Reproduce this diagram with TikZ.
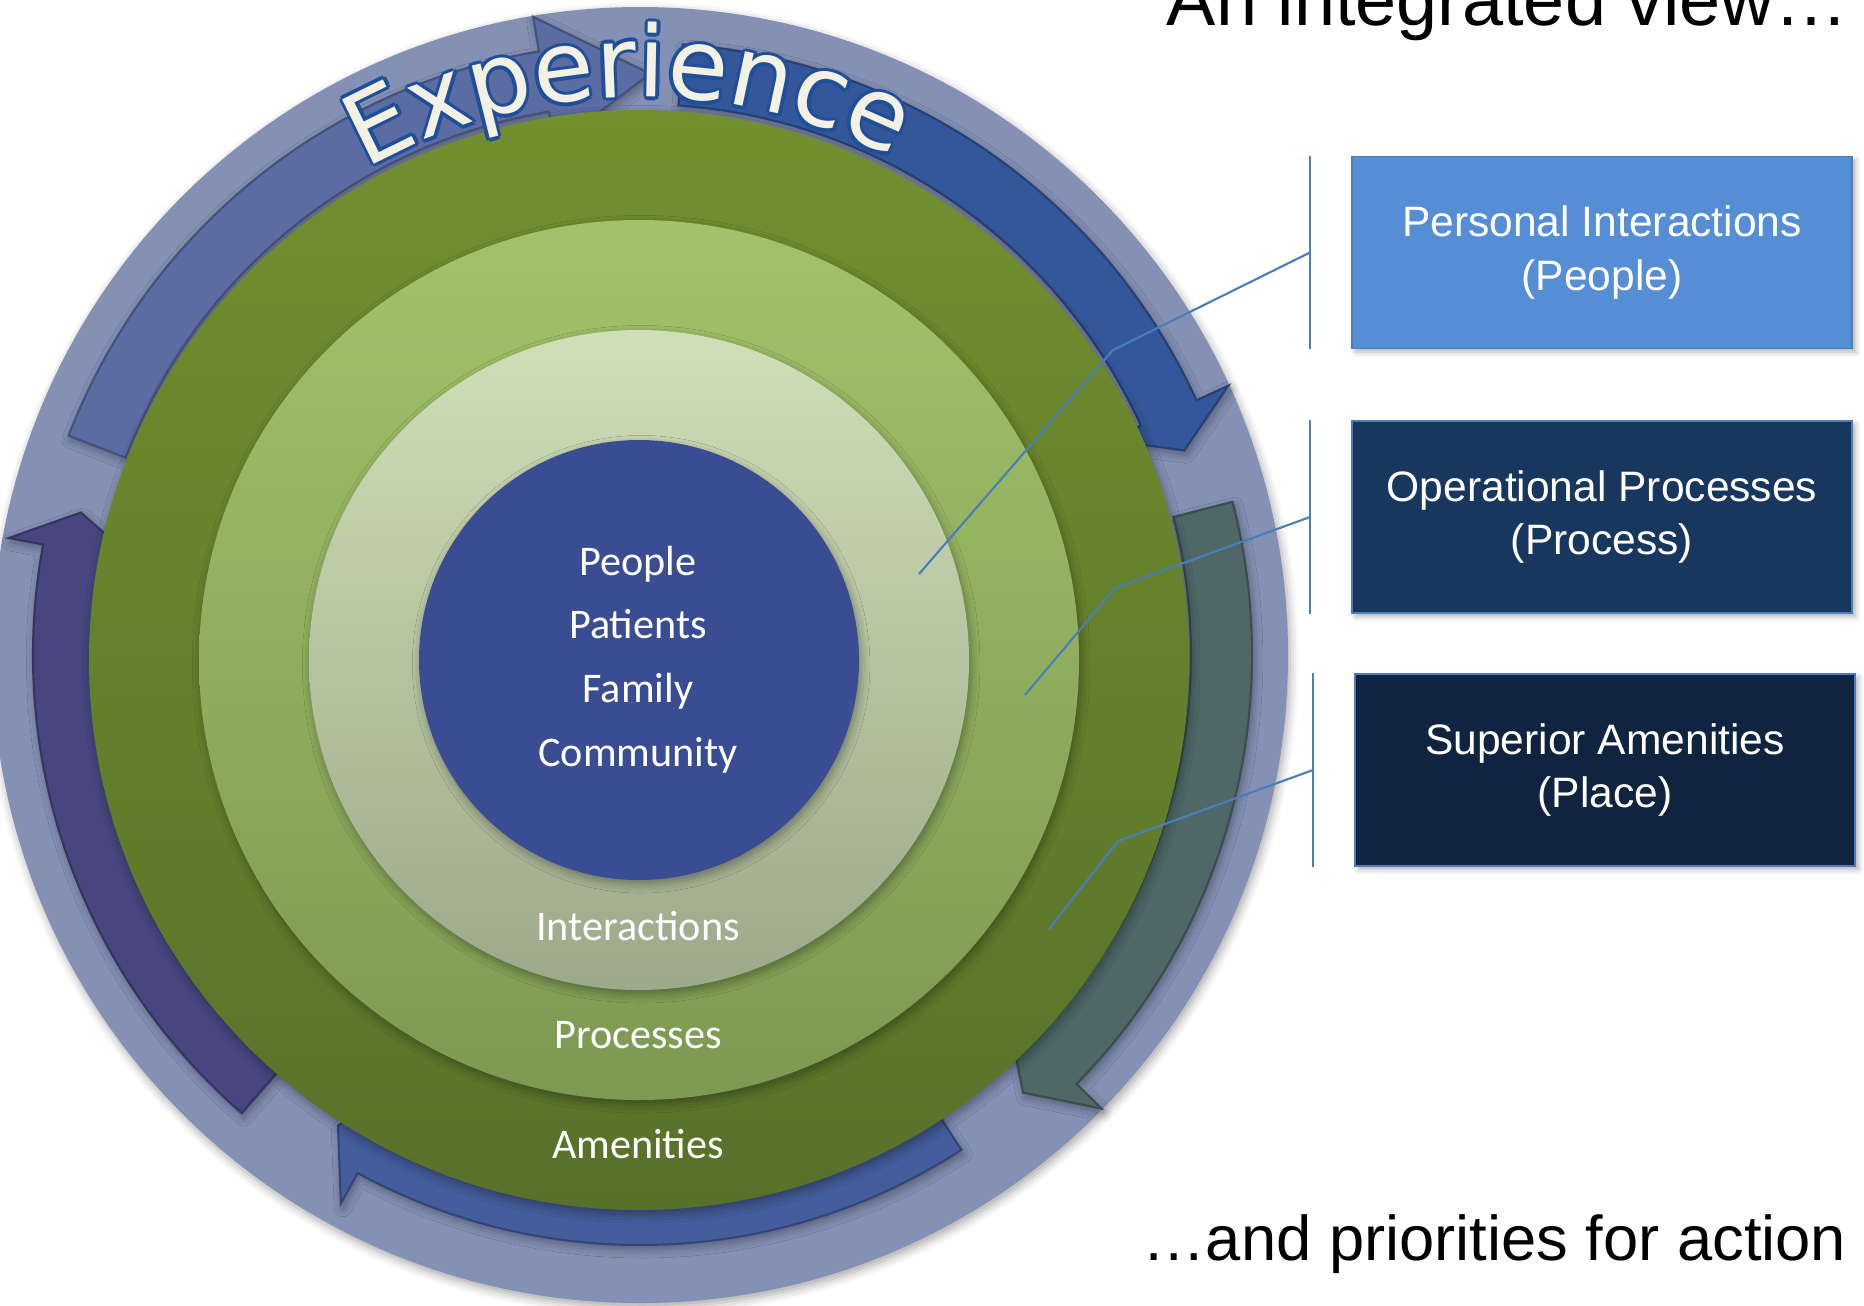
\documentclass[tikz,border=0pt]{standalone}
\usepackage{fontspec}
\setmainfont{Liberation Sans}
\newfontfamily\calibri{Carlito}
\newfontfamily\verdana{DejaVu Sans}
\usetikzlibrary{decorations.text,shadows.blur}

\definecolor{ringbg}{HTML}{8490B4}
\definecolor{arrtl}{HTML}{5A6CA2}
\definecolor{arrtr}{HTML}{33579A}
\definecolor{arrr}{HTML}{4F6767}
\definecolor{arrb}{HTML}{445D9C}
\definecolor{arrl}{HTML}{47467F}
\definecolor{amentop}{HTML}{72902F}
\definecolor{amenbot}{HTML}{58712A}
\definecolor{proctop}{HTML}{A2C26A}
\definecolor{procbot}{HTML}{7D9952}
\definecolor{intertop}{HTML}{CFDFB7}
\definecolor{interbot}{HTML}{9CA98A}
\definecolor{core}{HTML}{3A4D92}
\definecolor{expfill}{HTML}{F3F0E4}
\definecolor{expline}{HTML}{1F4F99}
\definecolor{boxpeople}{HTML}{558ED5}
\definecolor{boxprocess}{HTML}{17375E}
\definecolor{boxplace}{HTML}{10243F}
\definecolor{leadline}{HTML}{4A7EBB}

% #1 colour, #2/#3 inner/outer radius, #4 tail angle, #5 head angle, #6 tip angle
\newcommand{\cycarrow}[6]{%
  \path[fill=#1, draw=#1!75!black, line width=0.6pt, soft]
    ({#4}:{#3}) arc[start angle=#4, end angle=#5, radius=#3] -- ({#5}:{#3+35})
    -- ({#6}:{(#2+#3)/2}) -- ({#5}:{#2-35}) -- ({#5}:{#2})
    arc[start angle=#5, end angle=#4, radius=#2] -- cycle;}

\begin{document}
\begin{tikzpicture}[x=0.01cm, y=0.01cm,
  soft/.style={blur shadow={shadow xshift=0.6pt, shadow yshift=-1.2pt, shadow blur radius=2.5pt, shadow opacity=35}},
  lbl/.style={anchor=base, text=white, font=\calibri\fontsize{12}{14}\selectfont},
  box/.style={draw=leadline, line width=0.5pt, text=white, align=center, minimum width=5cm, minimum height=1.92cm,
    font=\fontsize{12.1}{15.2}\selectfont, blur shadow={shadow xshift=1pt, shadow yshift=-1pt, shadow blur radius=1.5pt, shadow opacity=30}},
  lead/.style={draw=leadline, line width=0.6pt}]
\useasboundingbox (0,0) rectangle (1864,-1305);

\fill[ringbg, soft] (640,-655) circle[radius=648];

\begin{scope}[shift={(640,-655)}]
\cycarrow{arrtl}{551}{612}{159}{99.5}{89}
\cycarrow{arrtr}{551}{612}{86}{24.6}{20.6}
\cycarrow{arrr}{551}{612}{14.5}{-44.5}{-48.8}
\cycarrow{arrb}{528}{590}{-57}{-118.6}{-122.7}
\cycarrow{arrl}{547}{607}{229}{169.5}{165.7}
\end{scope}

\path[soft, top color=amentop, bottom color=amenbot] (639,-660) circle[radius=550];
\path[soft, top color=proctop, bottom color=procbot] (639,-660) circle[radius=440];
\path[soft, top color=intertop, bottom color=interbot] (639,-660) circle[radius=330];
\fill[core, soft] (639,-660) circle[radius=220];

\node[lbl] (tpeople) at (638,-575) {People};
\node[lbl] (tpatients) at (638,-638) {Patients};
\node[lbl] (tfamily) at (638,-702) {Family};
\node[lbl] (tcommunity) at (638,-766) {Community};
\node[lbl] (tinter) at (638,-940) {Interactions};
\node[lbl] (tproc) at (638,-1048) {Processes};
\node[lbl] (tamen) at (638,-1158) {Amenities};

\begin{scope}[shift={(640,-655)}]
\foreach \dx/\dy in {3.5/0,-3.5/0,0/3.5,0/-3.5,2.5/2.5,2.5/-2.5,-2.5/2.5,-2.5/-2.5}
  \path[shift={(\dx,\dy)}, decorate, decoration={text along path, text align=center,
    text={|\verdana\fontsize{28}{30}\selectfont\color{expline}|Experience}}]
    (151.2:558) arc[start angle=151.2, end angle=31.2, radius=558];
\path[decorate, decoration={text along path, text align=center,
    text={|\verdana\fontsize{28}{30}\selectfont\color{expfill}|Experience}}]
    (151.2:558) arc[start angle=151.2, end angle=31.2, radius=558];
\end{scope}

\node[box, fill=boxpeople] (personal) at (1602,-252.5) {Personal Interactions\\(People)};
\node[box, fill=boxprocess] (operational) at (1602,-517) {Operational Processes\\(Process)};
\node[box, fill=boxplace] (superior) at (1605,-770) {Superior Amenities\\(Place)};

\coordinate (personalknee) at (1113,-350);
\coordinate (personaltip) at (919,-574);
\coordinate (operationalknee) at (1115,-588);
\coordinate (operationaltip) at (1025,-695);
\coordinate (superiorknee) at (1118,-841);
\coordinate (superiortip) at (1049,-929);

\path[lead] ([xshift=-0.41cm]personal.north west) -- ([xshift=-0.41cm]personal.south west);
\path[lead] ([xshift=-0.41cm]personal.west) -- (personalknee) -- (personaltip);
\path[lead] ([xshift=-0.41cm]operational.north west) -- ([xshift=-0.41cm]operational.south west);
\path[lead] ([xshift=-0.41cm]operational.west) -- (operationalknee) -- (operationaltip);
\path[lead] ([xshift=-0.41cm]superior.north west) -- ([xshift=-0.41cm]superior.south west);
\path[lead] ([xshift=-0.41cm]superior.west) -- (superiorknee) -- (superiortip);

\node[anchor=base east, inner sep=0, font=\fontsize{21}{25}\selectfont] (title) at (1849,-25) {An integrated view…};
\node[anchor=base east, inner sep=0, font=\fontsize{18}{22}\selectfont] (action) at (1847,-1260) {…and priorities for action};
\end{tikzpicture}
\end{document}
